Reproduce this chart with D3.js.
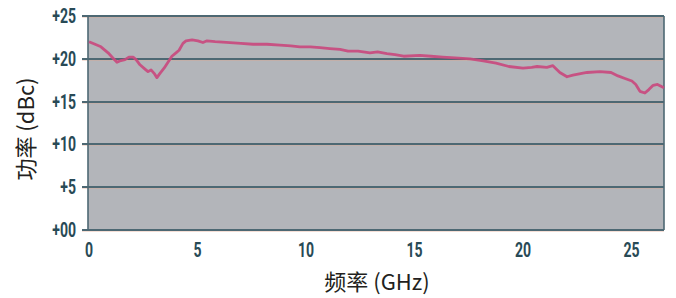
<!DOCTYPE html>
<html><head><meta charset="utf-8">
<script src="https://cdn.jsdelivr.net/npm/d3@7"></script>
<style>
html,body{margin:0;padding:0;background:#fff;}
svg{display:block;}
.tick-label{font-family:"Roboto","Liberation Sans",sans-serif;font-weight:bold;font-size:19.5px;fill:#284a56;}
.title{font-family:"Noto Sans CJK SC","Noto Sans",sans-serif;font-size:22px;fill:#231f20;}
</style></head>
<body>
<script>
// Frequency (GHz)
const freqGHz = [0.0,0.28,0.55,0.88,1.1,1.29,1.47,1.66,1.84,2.03,2.17,2.35,2.58,2.72,2.86,3.0,3.13,3.27,3.46,3.64,3.82,4.01,4.15,4.33,4.47,4.75,5.02,5.25,5.44,5.81,6.5,7.0,7.56,8.2,8.8,9.3,9.72,10.2,10.65,11.1,11.57,11.94,12.4,12.95,13.3,13.73,14.1,14.5,15.25,15.76,16.3,16.87,17.56,18.1,18.76,19.35,20.0,20.4,20.65,21.1,21.38,21.7,22.03,22.3,22.95,23.55,24.06,24.38,24.7,25.02,25.2,25.39,25.62,25.8,26.0,26.2,26.36,26.5];
// Power (dBc)
const powerDBc = [22.0,21.7,21.4,20.7,20.1,19.6,19.8,19.9,20.2,20.2,19.9,19.3,18.8,18.5,18.7,18.3,17.8,18.3,18.9,19.6,20.3,20.7,21.0,21.8,22.1,22.2,22.1,21.9,22.1,22.0,21.9,21.8,21.7,21.7,21.6,21.5,21.4,21.4,21.3,21.2,21.1,20.9,20.9,20.7,20.8,20.6,20.5,20.3,20.4,20.3,20.2,20.1,20.0,19.8,19.5,19.1,18.9,19.0,19.1,19.0,19.2,18.4,17.9,18.1,18.4,18.5,18.4,18.0,17.7,17.4,17.0,16.2,16.0,16.4,16.9,17.0,16.8,16.6];
const xTicks = [0,5,10,15,20,25];
const xTickLabels = ["0","5","10","15","20","25"];
const yTicks = [0,5,10,15,20,25];
const yTickLabels = ["+00","+5","+10","+15","+20","+25"];
const xTitle = "频率 (GHz)";
const yTitle = "功率 (dBc)";

const W = 676, H = 298;
const L = 88, R = 664, T = 16, B = 230;
const svg = d3.select("body").append("svg").attr("width", W).attr("height", H);

const x = d3.scaleLinear().domain([0, 26.5]).range([L + 1, R]);
const y = d3.scaleLinear().domain([0, 25]).range([B, T]);
const gy = d => Math.round(y(d));

// plot background
svg.append("rect").attr("x", L).attr("y", T).attr("width", R - L).attr("height", B - T).attr("fill", "#b3b5ba");

// gridlines with ticks (extend slightly to the left)
const grid = svg.append("g");
grid.selectAll("line.halo").data(yTicks).join("line").attr("class", "halo")
  .attr("x1", L - 6).attr("x2", R).attr("y1", d => gy(d) + 1.5).attr("y2", d => gy(d) + 1.5)
  .attr("stroke", "#e3a58c").attr("stroke-width", 1).attr("opacity", 0.35);
grid.selectAll("line.g").data(yTicks).join("line").attr("class", "g")
  .attr("x1", L - 6).attr("x2", R).attr("y1", d => gy(d)).attr("y2", d => gy(d))
  .attr("stroke", "#4d6873").attr("stroke-width", 2);

// left & right borders
svg.append("line").attr("x1", L).attr("x2", L).attr("y1", T).attr("y2", B).attr("stroke", "#4d6873").attr("stroke-width", 1.6);
svg.append("line").attr("x1", R).attr("x2", R).attr("y1", T).attr("y2", B).attr("stroke", "#4d6873").attr("stroke-width", 1.6);

// data line
const line = d3.line().x((d, i) => x(freqGHz[i])).y(d => y(d)).curve(d3.curveLinear);
svg.append("path").datum(powerDBc).attr("d", line).attr("fill", "none")
  .attr("stroke", "#c94a7e").attr("stroke-width", 2.8).attr("stroke-linejoin", "round").attr("opacity", 0.92);

// y tick labels (condensed)
svg.append("g").selectAll("text").data(yTicks).join("text")
  .attr("class", "tick-label").attr("text-anchor", "end").attr("dy", "0.36em")
  .attr("transform", d => `translate(76,${gy(d)}) scale(0.72,1)`)
  .text((d, i) => yTickLabels[i]);

// x tick labels (condensed)
svg.append("g").selectAll("text").data(xTicks).join("text")
  .attr("class", "tick-label").attr("text-anchor", "middle")
  .attr("transform", d => `translate(${x(d)},257) scale(0.72,1)`)
  .text((d, i) => xTickLabels[i]);

// axis titles
svg.append("text").attr("class", "title").attr("x", (L + R) / 2 + 1).attr("y", 290)
  .attr("text-anchor", "middle").text(xTitle);
svg.append("text").attr("class", "title").attr("transform", "translate(34,129) rotate(-90)")
  .attr("text-anchor", "middle").text(yTitle);
</script>
</body></html>
